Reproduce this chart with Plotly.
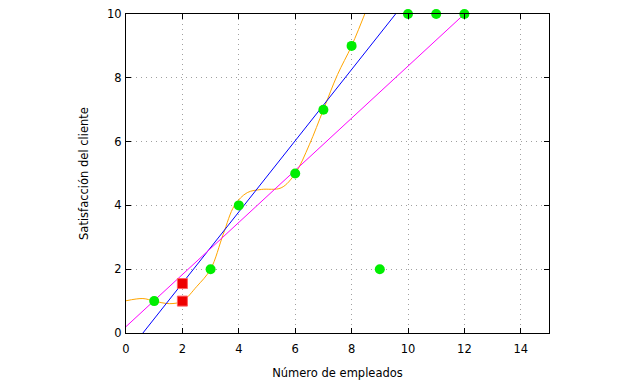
import plotly.graph_objects as go

# Data points
pts_x = [1, 3, 4, 6, 7, 8, 9, 10, 11, 12]
pts_y = [1, 2, 4, 5, 7, 9, 2, 10, 10, 10]

# Highlighted points (red squares)
red_x = [2, 2]
red_y = [1.0, 1.55]

# Fitted lines (endpoints)
blue_x = [0.60, 9.56]
blue_y = [0.0, 10.0]
mag_x = [0.0, 12.0]
mag_y = [0.2, 10.0]

# Smooth curve (orange) control points
curve_x = [0.0, 0.6, 1.0, 1.55, 2.0, 2.5, 3.0, 3.45, 3.85, 4.3, 4.8, 5.5, 6.0, 6.5, 7.0, 7.5, 8.0, 8.6]
curve_y = [1.01, 1.08, 1.0, 0.92, 1.0, 1.45, 2.0, 3.1, 4.0, 4.4, 4.5, 4.55, 5.0, 5.9, 7.0, 8.1, 9.0, 10.3]

x_ticks = [0, 2, 4, 6, 8, 10, 12, 14]
y_ticks = [0, 2, 4, 6, 8, 10]

fig = go.Figure()
fig.add_trace(go.Scatter(x=curve_x, y=curve_y, mode="lines",
                         line=dict(color="#ffa500", width=1, shape="spline", smoothing=1.0),
                         hoverinfo="skip"))
fig.add_trace(go.Scatter(x=blue_x, y=blue_y, mode="lines",
                         line=dict(color="#0000ff", width=1)))
fig.add_trace(go.Scatter(x=mag_x, y=mag_y, mode="lines",
                         line=dict(color="#ff00ff", width=1)))
fig.add_trace(go.Scatter(x=pts_x, y=pts_y, mode="markers", cliponaxis=False,
                         marker=dict(symbol="circle", size=10, color="#00ee00",
                                     line=dict(width=0))))
fig.add_trace(go.Scatter(x=red_x, y=red_y, mode="markers", cliponaxis=False,
                         marker=dict(symbol="square", size=10, color="#ee0000",
                                     line=dict(width=1, color="#ff6060"))))

font = dict(family="DejaVu Sans", size=11.5, color="#000000")
axis_common = dict(
    showline=True, linecolor="#000000", linewidth=1, mirror="allticks",
    ticks="inside", ticklen=5, tickcolor="#000000", tickwidth=1,
    showgrid=True, gridcolor="#a0a0a0", gridwidth=1, griddash="1px,4px",
    zeroline=False, tickfont=font, automargin=False, ticklabeloverflow="allow",
)
fig.update_xaxes(range=[0, 15], tickvals=x_ticks, ticklabelstandoff=5,
                 title=dict(text="Número de empleados", font=font, standoff=14),
                 **axis_common)
fig.update_yaxes(range=[0, 10], tickvals=y_ticks, ticklabelstandoff=1,
                 title=dict(text="Satisfacción del cliente", font=font, standoff=16),
                 **axis_common)
# page body adds an 8px offset, so the figure is 8px smaller and margins shifted
fig.update_layout(width=632, height=376, showlegend=False,
                  paper_bgcolor="#ffffff", plot_bgcolor="#ffffff",
                  margin=dict(l=118, r=91, t=6, b=51, autoexpand=False),
                  font=font)
fig.write_html("out.html")
